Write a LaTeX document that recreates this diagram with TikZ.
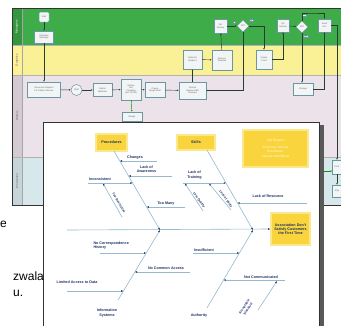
\documentclass[tikz,border=0pt]{standalone}
\usepackage{fontspec}
\setmainfont{Liberation Sans}
\usetikzlibrary{shapes.geometric,arrows.meta,calc}
\definecolor{mgreen}{RGB}{62,172,72}
\definecolor{mgreenlab}{RGB}{52,150,62}
\definecolor{gyellow}{RGB}{250,240,150}
\definecolor{wpink}{RGB}{236,226,233}
\definecolor{pblue}{RGB}{214,232,236}
\definecolor{nodeborder}{RGB}{110,150,160}
\definecolor{nodefill}{RGB}{242,245,245}
\definecolor{flowline}{RGB}{40,60,50}
\definecolor{boneblue}{RGB}{150,185,205}
\definecolor{navy}{RGB}{30,50,100}
\definecolor{fyellow}{RGB}{250,212,60}
\definecolor{fglow}{RGB}{252,232,140}
\tikzset{
  fnode/.style={draw=nodeborder, fill=nodefill, line width=0.5pt, inner sep=0.3pt, align=center,
    font=\fontsize{2.2}{2.6}\selectfont, text=black!60},
  fdia/.style={fnode, diamond, aspect=1, minimum size=12pt},
  tag/.style={draw=nodeborder, fill=nodefill, line width=0.3pt, inner sep=0.4pt,
    font=\fontsize{1.8}{2}\selectfont, text=black!60},
  flow/.style={draw=flowline, line width=0.45pt, -{Latex[length=1.6pt,width=1.5pt]}},
  gflow/.style={draw=green!60!black, line width=0.45pt, -{Latex[length=1.6pt,width=1.5pt]}},
  lanelab/.style={rotate=90, font=\fontsize{3}{3}\selectfont},
  ybox/.style={fill=fyellow, draw=fglow, line width=1.2pt, align=center, inner sep=0.5pt,
    font=\fontsize{3.7}{4.3}\selectfont\bfseries, text=navy},
  lbl/.style={font=\fontsize{3.7}{4.2}\selectfont\bfseries, text=navy, inner sep=0.3pt, align=center},
  rlbl/.style={font=\fontsize{3.2}{3.8}\selectfont\bfseries, text=navy, inner sep=0pt, align=center},
  bonel/.style={draw=boneblue, line width=0.6pt, -{Latex[length=2.2pt,width=1.8pt,color=navy]}},
}
\begin{document}
\begin{tikzpicture}[x=1pt,y=-1pt]
\useasboundingbox (0,0) rectangle (341,325);
\clip (0,0) rectangle (341,325);
% ---------- background swimlane flowchart ----------
\fill[mgreen] (12,8) rectangle (350,45);
\fill[gyellow] (12,45) rectangle (350,75);
\fill[wpink] (12,75) rectangle (350,157);
\fill[pblue] (12,157) rectangle (350,205);
\fill[mgreenlab] (12,8) rectangle (22,45);
\fill[yellow!80!orange!40] (12,45) rectangle (22,75);
\fill[wpink!90!black] (12,75) rectangle (22,157);
\fill[pblue!92!black] (12,157) rectangle (22,205);
\draw[black!35, line width=0.3pt] (22,8) -- (22,205);
\draw[black!30, line width=0.3pt] (12,45) -- (350,45) (12,75) -- (350,75) (12,157) -- (350,157);
\draw[black!80, line width=0.8pt] (350,8) -- (12,8) -- (12,205) -- (350,205);
\node[lanelab, text=white] (lmgr) at (17,27) {Managers};
\node[lanelab, text=black!60] (lgra) at (17,60) {Graphics};
\node[lanelab, text=black!60] (lwri) at (17,116) {Writers};
\node[lanelab, text=black!60] (lpro) at (17,181) {Production};
% nodes
\node[fnode, rounded corners=1pt, minimum width=10pt, minimum height=10pt] (start) at (44,17) {Start};
\node[fnode, minimum width=19pt, minimum height=12pt] (sched) at (44,37) {Schedule\\Meetings};
\node[fnode, minimum width=33pt, minimum height=15pt] (docreq) at (44,89.5) {Document Request\\for Product Service};
\node[fnode, circle, minimum size=11pt] (draft) at (76.5,90) {Draft};
\node[fnode, minimum width=19pt, minimum height=13pt] (gather) at (102.5,90) {Gather\\Materials};
\node[fnode, minimum width=20pt, minimum height=21pt] (outline) at (131,89.5) {Outline\\Text\\Targeting\\(incl. QTRs)};
\node[fnode, minimum width=20pt, minimum height=15pt] (rough) at (155,90) {Create\\Rough Draft};
\node[fnode, minimum width=27pt, minimum height=17pt] (internal) at (192.5,90.5) {Internal\\Review AND\\Changes};
\node[fnode, minimum width=20pt, minimum height=9pt] (design) at (132,116.5) {Design};
\node[fnode, minimum width=19pt, minimum height=19pt] (optimize) at (192.5,59.5) {Optimize\\Graphics};
\node[fnode, minimum width=20pt, minimum height=20pt] (nametpl) at (222,60) {Name in\\Template};
\node[fnode, minimum width=13pt, minimum height=14pt] (qa1) at (220.5,26) {QA\\Review};
\node[fdia] (dia1) at (243,26) {OK?};
\node[fnode, minimum width=16pt, minimum height=19pt] (proof) at (264,59.5) {Create\\Proof};
\node[fnode, minimum width=12pt, minimum height=13pt] (qa2) at (283,25.5) {QA\\Review};
\node[fdia] (dia2) at (302,27) {OK?};
\node[fnode, minimum width=13pt, minimum height=13pt] (send) at (324.5,25.5) {Send\\Out};
\node[fnode, minimum width=20pt, minimum height=12pt] (change) at (303,89) {Change};
\node[fnode, minimum width=9pt, minimum height=14pt] (prod1) at (337,167) {Print};
\node[fnode, minimum width=9pt, minimum height=12pt] (prod2) at (337,191) {Ship};
\node[tag] (tyes1) at (234,22) {Y};
\node[tag] (tno1) at (251,20.5) {NO};
\node[tag] (tno2) at (304,15) {NO};
\node[tag] (tyes2) at (305.5,36.5) {YES};
\coordinate (c13) at (313,13);
\coordinate (fcin) at (318,171);
% connectors
\draw[flow] (start) -- (sched);
\draw[flow] (sched) -- (docreq);
\draw[flow] (docreq) -- (draft);
\draw[flow] (draft) -- (gather);
\draw[flow] (gather) -- (outline);
\draw[flow] (outline) -- (rough);
\draw[flow] (rough) -- (internal);
\draw[gflow] (outline) -- (design);
\draw[flow] (internal) -- (optimize);
\draw[flow] (optimize) -- (nametpl);
\draw[flow] (nametpl) -- (qa1);
\draw[flow] (qa1) -- (dia1);
\draw[flow] (dia1.south) |- (internal.east);
\draw[flow] (dia1.east) -| (proof.north);
\draw[flow] (proof.east) -| (qa2.south);
\draw[flow] (qa2) -- (dia2);
\draw[flow] (dia2.north) |- (c13) -| (send.north);
\draw[flow] (dia2.south) -- (change.north -| dia2.south);
\draw[flow] (change.east) -| (send.south);
\draw[flow] (send.east) -| (prod1.north);
\draw[flow] (prod1) -- (prod2);
\draw[gflow] (fcin) -- (prod1.west |- fcin);
% ---------- front fishbone panel ----------
\fill[black!65] (319,125) rectangle (323.5,330);
\filldraw[fill=white, draw=black!80, line width=1pt] (43,122) rectangle (319,330);
\node[ybox, minimum width=31pt, minimum height=17pt] (proc) at (111.5,142.5) {Procedures};
\node[ybox, minimum width=38pt, minimum height=15pt] (skills) at (196,142.5) {Skills};
\node[ybox, minimum width=65pt, minimum height=37pt, font=\fontsize{3.2}{4.6}\selectfont, text=white!85!yellow] (iso) at (275.5,148.5) {ISO Experts\\[1.5pt]Customer Service\\Breakdown\\Causes and Effects};
\node[ybox, minimum width=39pt, minimum height=32pt] (effect) at (290.5,229) {Association Don't\\Satisfy Customers\\the First Time};
\coordinate (pb) at (114,151);
\coordinate (J1) at (160,230);
\coordinate (sb) at (207,150);
\coordinate (J2) at (253,230);
\coordinate (L1) at (118,300);
\coordinate (L2) at (207,308);
\coordinate (sp0) at (67,230);
% main bones
\draw[bonel] (sp0) -- (effect.west);
\draw[bonel] (pb) -- (J1);
\draw[bonel] (sb) -- (J2);
\draw[bonel] (L1) -- (J1);
\draw[bonel] (L2) -- (J2);
% procedures sub-bones
\coordinate (a1) at (157,161); \coordinate (b1) at (119.8,161);
\coordinate (a2) at (172,176); \coordinate (b2) at (128.6,176);
\coordinate (a3) at (88,183);  \coordinate (b3) at (132.6,183);
\coordinate (a4) at (185,207); \coordinate (b4) at (146.6,207);
\coordinate (a5) at (122,217); \coordinate (b5) at (103,183.5);
\draw[bonel] (a1) -- (b1);
\draw[bonel] (a2) -- (b2);
\draw[bonel] (a3) -- (b3);
\draw[bonel] (a4) -- (b4);
\draw[bonel] (a5) -- (b5);
\node[lbl] (changes) at (135,157.5) {Changes};
\node[lbl] (aware) at (146.5,169) {Lack of\\Awareness};
\node[lbl] (incons) at (100,179.5) {Inconsistent};
\node[rlbl, rotate=-59] (toores) at (119,203) {Too Restrictive};
\node[lbl] (toomany) at (166,203.5) {Too Many};
% skills sub-bones
\coordinate (a6) at (183,183); \coordinate (b6) at (226,183);
\coordinate (a7) at (203,211); \coordinate (b7) at (185,183.5);
\coordinate (a8) at (231,210); \coordinate (b8) at (209,183.5);
\coordinate (a9) at (307,203); \coordinate (b9) at (237.5,203);
\draw[bonel] (a6) -- (b6);
\draw[bonel] (a7) -- (b7);
\draw[bonel] (a8) -- (b8);
\draw[bonel] (a9) -- (b9);
\node[lbl] (training) at (194.5,175) {Lack of\\Training};
\node[rlbl, rotate=-55] (lowq) at (199,200) {Low Quality};
\node[rlbl, rotate=-55] (lskill) at (226,199) {Lack of Skills};
\node[lbl] (resource) at (268,196) {Lack of Resource};
% information systems sub-bones
\coordinate (a10) at (100,253); \coordinate (b10) at (146.2,253);
\coordinate (a11) at (190,272); \coordinate (b11) at (134.8,272);
\coordinate (a12) at (67,291);  \coordinate (b12) at (123.4,291);
\draw[bonel] (a10) -- (b10);
\draw[bonel] (a11) -- (b11);
\draw[bonel] (a12) -- (b12);
\node[lbl, align=left, anchor=west] (corresp) at (93,245.5) {No Correspondence\\History};
\node[lbl] (common) at (166,268) {No Common Access};
\node[lbl] (limited) at (77,282) {Limited Access to Data};
\node[lbl] (infosys) at (107,313) {Information\\Systems};
% authority sub-bones
\coordinate (a13) at (193,253); \coordinate (b13) at (239.4,253);
\coordinate (a14) at (285,280); \coordinate (b14) at (223.5,280);
\coordinate (a15) at (258,310); \coordinate (b15) at (277,281);
\draw[bonel] (a13) -- (b13);
\draw[bonel] (a14) -- (b14);
\draw[bonel] (a15) -- (b15);
\node[lbl] (insuff) at (204,250) {Insufficient};
\node[lbl] (notcomm) at (261,277) {Not Communicated};
\node[rlbl, rotate=57, font=\fontsize{3.2}{4.4}\selectfont\bfseries] (accstd) at (246,308) {Acceptable\\Standard};
\node[lbl] (auth) at (199,315.5) {Authority};
% ---------- partly hidden page text ----------
\node[font=\fontsize{12}{12}\selectfont, anchor=base west, inner sep=0] (te) at (0,227) {e};
\node[font=\fontsize{12}{12}\selectfont, anchor=base west, inner sep=0] (tz) at (13,280) {zwala};
\node[font=\fontsize{12}{12}\selectfont, anchor=base west, inner sep=0] (tu) at (13,296) {u.};
\end{tikzpicture}
\end{document}
